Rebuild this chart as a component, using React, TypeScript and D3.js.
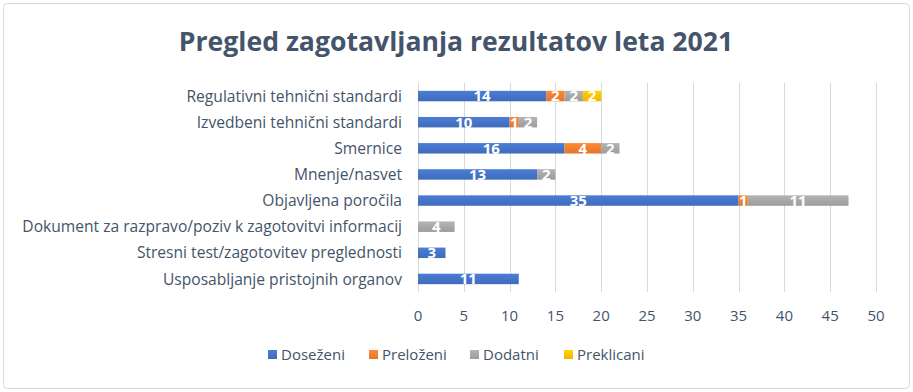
import * as d3 from "d3";
import React from "react";
import { useEffect, useRef } from "react";

const categories = [
    "Regulativni tehnični standardi",
    "Izvedbeni tehnični standardi",
    "Smernice",
    "Mnenje/nasvet",
    "Objavljena poročila",
    "Dokument za razpravo/poziv k zagotovitvi informacij",
    "Stresni test/zagotovitev preglednosti",
    "Usposabljanje pristojnih organov",
];
const seriesNames = ["Doseženi", "Preloženi", "Dodatni", "Preklicani"];
const dosezeni = [14, 10, 16, 13, 35, 0, 3, 11];
const prelozeni = [2, 1, 4, 0, 1, 0, 0, 0];
const dodatni = [2, 2, 2, 2, 11, 4, 0, 0];
const preklicani = [2, 0, 0, 0, 0, 0, 0, 0];
const xTicks = [0, 5, 10, 15, 20, 25, 30, 35, 40, 45, 50];

const colors = ["#4472C4", "#ED7D31", "#A5A5A5", "#FFC000"];
const textColor = "#44546A";
const font = "'Open Sans', 'Noto Sans', sans-serif";

function drawChart(svgEl: SVGSVGElement) {
    const width = 913;
    const height = 392;
    const margin = { top: 83, right: 37, bottom: 100, left: 418 };

    const svg = d3.select(svgEl);
    svg.selectAll("*").remove();

    const rows = categories.map((c, i) => ({
        cat: c,
        [seriesNames[0]]: dosezeni[i],
        [seriesNames[1]]: prelozeni[i],
        [seriesNames[2]]: dodatni[i],
        [seriesNames[3]]: preklicani[i],
    }));
    const stacked = d3.stack<any>().keys(seriesNames)(rows);

    // gradients like the office fill
    const defs = svg.append("defs");
    colors.forEach((c, i) => {
        const g = defs.append("linearGradient")
            .attr("id", "grad" + i)
            .attr("x1", 0).attr("y1", 0).attr("x2", 0).attr("y2", 1);
        g.append("stop").attr("offset", "0%").attr("stop-color", d3.color(c)!.brighter(0.25).toString());
        g.append("stop").attr("offset", "100%").attr("stop-color", d3.color(c)!.darker(0.15).toString());
    });

    svg.append("rect")
        .attr("x", 3.5).attr("y", 3.5)
        .attr("width", width - 7).attr("height", height - 7)
        .attr("rx", 4)
        .attr("fill", "#fff")
        .attr("stroke", "#D9D9D9");

    const x = d3.scaleLinear().domain([0, 50]).range([margin.left, width - margin.right]);
    const y = d3.scaleBand().domain(categories)
        .range([margin.top, height - margin.bottom])
        .paddingInner(0.6).paddingOuter(0.3);

    // grid
    svg.append("g").selectAll("line")
        .data(xTicks)
        .enter().append("line")
        .attr("x1", (d) => Math.round(x(d)) + 0.5)
        .attr("x2", (d) => Math.round(x(d)) + 0.5)
        .attr("y1", margin.top)
        .attr("y2", height - margin.bottom)
        .attr("stroke", "#D9D9D9")
        .attr("stroke-width", 1);

    // tick labels
    svg.append("g").selectAll("text")
        .data(xTicks)
        .enter().append("text")
        .attr("x", (d) => x(d))
        .attr("y", 321)
        .attr("text-anchor", "middle")
        .attr("fill", textColor)
        .style("font", `15px ${font}`)
        .text((d) => d);

    // category labels
    svg.append("g").selectAll("text")
        .data(categories)
        .enter().append("text")
        .attr("x", 402)
        .attr("y", (d) => (y(d) || 0) + y.bandwidth() / 2)
        .attr("dy", "0.36em")
        .attr("text-anchor", "end")
        .attr("fill", textColor)
        .style("font", `15.6px ${font}`)
        .text((d) => d);

    // bars
    const layer = svg.append("g").selectAll("g")
        .data(stacked)
        .enter().append("g")
        .attr("fill", (d, i) => `url(#grad${i})`);

    layer.selectAll("rect")
        .data((d) => d.filter((s) => s[1] - s[0] > 0))
        .enter().append("rect")
        .attr("x", (d) => x(d[0]))
        .attr("y", (d) => y(d.data.cat) || 0)
        .attr("width", (d) => x(d[1]) - x(d[0]))
        .attr("height", y.bandwidth());

    // value labels
    const lab = svg.append("g").selectAll("g")
        .data(stacked)
        .enter().append("g");
    lab.selectAll("text")
        .data((d) => d.filter((s) => s[1] - s[0] > 0))
        .enter().append("text")
        .attr("x", (d) => (x(d[0]) + x(d[1])) / 2)
        .attr("y", (d) => (y(d.data.cat) || 0) + y.bandwidth() / 2)
        .attr("dy", "0.36em")
        .attr("text-anchor", "middle")
        .attr("fill", "#fff")
        .style("font", `bold 15px ${font}`)
        .text((d) => d[1] - d[0]);

    // title
    svg.append("text")
        .attr("x", 456)
        .attr("y", 51)
        .attr("text-anchor", "middle")
        .attr("fill", textColor)
        .style("font", `bold 26.6px ${font}`)
        .text("Pregled zagotavljanja rezultatov leta 2021");

    // legend
    const legendX = [268, 369, 470, 564];
    const leg = svg.append("g").selectAll("g")
        .data(seriesNames)
        .enter().append("g")
        .attr("transform", (d, i) => `translate(${legendX[i]},355)`);
    leg.append("rect")
        .attr("x", 0).attr("y", -5)
        .attr("width", 9).attr("height", 9)
        .attr("fill", (d, i) => `url(#grad${i})`);
    leg.append("text")
        .attr("x", 13)
        .attr("y", 0)
        .attr("dy", "0.36em")
        .attr("fill", textColor)
        .style("font", `15px ${font}`)
        .text((d) => d);
}

export default function App() {
    const ref = useRef<SVGSVGElement>(null);
    useEffect(() => {
        if (ref.current) drawChart(ref.current);
    });
    return (
        <div style={{ position: "absolute", left: 0, top: 0, width: 913, height: 392, background: "#fff" }}>
            <svg ref={ref} width={913} height={392}></svg>
        </div>
    );
}
